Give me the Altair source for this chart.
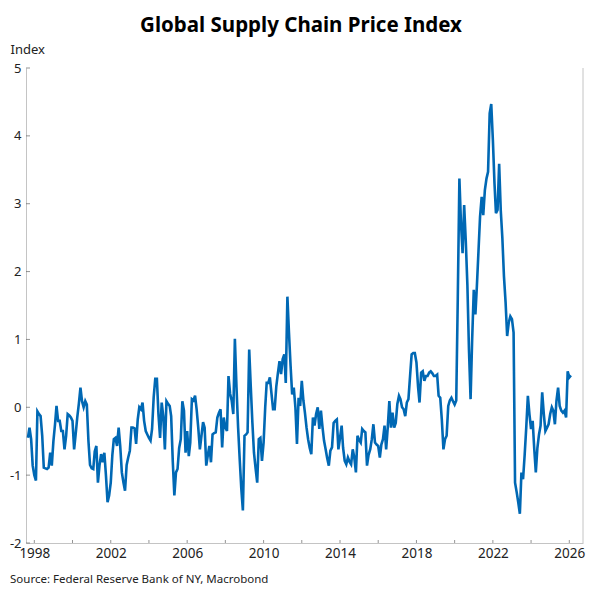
import altair as alt
import pandas as pd

# Monthly GSCPI readings, Sep 1997 .. Feb 2026
start_month = "1997-09-01"
values = [
    -0.45, -0.30, -0.47, -0.86, -1.00, -1.08, -0.06, -0.10, -0.13, -0.42,
    -0.89, -0.90, -0.91, -0.89, -0.67, -0.86, -0.50, -0.25, 0.02, -0.20,
    -0.20, -0.35, -0.35, -0.62, -0.42, -0.10, -0.12, -0.15, -0.20, -0.62,
    -0.40, -0.15, 0.05, 0.29, 0.09, 0.00, 0.09, 0.04, -0.50, -0.85,
    -0.90, -0.91, -0.65, -0.57, -1.11, -0.85, -0.69, -0.81, -0.67, -1.00,
    -1.40, -1.30, -1.11, -0.70, -0.47, -0.45, -0.57, -0.30, -0.57, -0.96,
    -1.11, -1.23, -0.85, -0.74, -0.64, -0.30, -0.30, -0.31, -0.54, -0.18,
    0.00, -0.03, 0.07, -0.20, -0.35, -0.40, -0.45, -0.49, -0.32, 0.15,
    0.42, 0.42, -0.10, -0.45, 0.07, -0.13, -0.62, 0.09, 0.05, 0.02,
    -0.13, -0.80, -1.30, -0.96, -0.91, -0.60, -0.47, 0.09, -0.05, -0.67,
    -0.35, -0.72, -0.52, 0.12, 0.10, 0.17, -0.03, -0.30, -0.62, -0.42,
    -0.22, -0.30, -0.86, -0.70, -0.57, -0.81, -0.40, -0.38, -0.37, -0.15,
    -0.08, -0.03, -0.59, -0.15, -0.30, -0.35, 0.46, 0.20, 0.10, -0.10,
    1.01, 0.30, -0.30, -0.76, -1.20, -1.52, -0.42, -0.40, -0.37, 0.85,
    0.30, -0.23, -0.67, -0.90, -1.11, -0.47, -0.45, -0.79, -0.52, 0.00,
    0.36, 0.36, 0.44, 0.20, -0.03, -0.03, 0.31, 0.50, 0.68, 0.49,
    0.71, 0.78, 0.36, 1.63, 1.10, 0.61, 0.19, 0.29, 0.00, -0.54,
    0.14, 0.02, 0.39, 0.10, -0.08, -0.30, -0.47, -0.60, -0.69, -0.15,
    -0.27, -0.10, 0.00, -0.32, -0.05, -0.30, -0.49, -0.62, -0.75, -0.86,
    -0.64, -0.59, -0.23, -0.20, -0.18, -0.62, -0.45, -0.27, -0.60, -0.79,
    -0.84, -0.74, -0.80, -0.84, -0.62, -0.74, -0.96, -0.42, -0.48, -0.52,
    -0.32, -0.35, -0.37, -0.86, -0.70, -0.62, -0.47, -0.25, -0.52, -0.55,
    -0.57, -0.74, -0.55, -0.47, -0.27, -0.62, -0.30, 0.09, -0.30, -0.08,
    -0.30, -0.23, 0.05, 0.17, 0.12, 0.00, -0.03, -0.13, 0.07, 0.12,
    0.46, 0.78, 0.80, 0.80, 0.66, 0.30, 0.07, 0.51, 0.53, 0.39,
    0.46, 0.46, 0.51, 0.53, 0.50, 0.46, 0.46, 0.48, 0.17, 0.14,
    -0.18, -0.62, -0.47, -0.42, 0.02, 0.10, 0.14, 0.09, 0.04, 0.10,
    1.60, 3.37, 2.72, 2.27, 2.98, 2.45, 1.80, 0.85, 0.12, 1.00,
    1.73, 1.37, 1.78, 2.30, 2.81, 3.10, 2.83, 3.20, 3.37, 3.47,
    4.33, 4.47, 3.94, 3.30, 2.86, 2.91, 3.59, 2.90, 2.50, 1.93,
    1.55, 1.05, 1.25, 1.34, 1.30, 1.10, -1.11, -1.25, -1.40, -1.57,
    -0.96, -1.06, -0.70, -0.30, 0.17, -0.10, -0.32, -0.20, -0.60, -0.96,
    -0.60, -0.40, -0.27, 0.22, -0.10, -0.35, -0.30, -0.25, -0.10, 0.00,
    -0.05, -0.25, 0.10, 0.29, 0.02, -0.05, -0.08, -0.05, -0.15, 0.53,
    0.44, 0.47,
]
x_tick_years = [1998, 2000, 2002, 2004, 2006, 2008, 2010, 2012, 2014,
                2016, 2018, 2020, 2022, 2024, 2026]
y_tick_values = [-2, -1, 0, 1, 2, 3, 4, 5]
title_text = "Global Supply Chain Price Index"
y_title = "Index"
source_text = "Source: Federal Reserve Bank of NY, Macrobond"

W, H = 557, 475
AXIS_GREY = "#c4c4c4"
TICK_GREY = "#666666"
TEXT = "#222222"
FONT = "Noto Sans"

months = pd.date_range(start_month, periods=len(values), freq="MS")
df = pd.DataFrame({"date": months.strftime("%Y-%m-%dT00:00:00"), "value": values})
xt = pd.DataFrame({"date": [f"{y}-01-01T00:00:00" for y in x_tick_years]})
yt = pd.DataFrame({"value": y_tick_values})

xscale = alt.Scale(domain=[alt.DateTime(year=1997, month=7, date=26),
                           alt.DateTime(year=2026, month=9, date=20)])
yscale = alt.Scale(domain=[-2, 5], nice=False, zero=False)

line = alt.Chart(df).mark_line(color="#0068b4", strokeWidth=2.6).encode(
    x=alt.X("date:T", scale=xscale,
            axis=alt.Axis(values=[alt.DateTime(year=y) for y in x_tick_years],
                          format="%Y", title=None, grid=False, ticks=False,
                          domainColor=AXIS_GREY, labelFontSize=13.5,
                          labelColor=TEXT, labelPadding=3, labelFont=FONT)),
    y=alt.Y("value:Q", scale=yscale,
            axis=alt.Axis(values=y_tick_values, title=y_title, titleAngle=0,
                          titleX=-16, titleY=-19, titleAlign="left",
                          titleBaseline="middle", titleFontWeight="normal",
                          titleFontSize=13, titleColor=TEXT, titleFont=FONT,
                          grid=False, ticks=False, domainColor=AXIS_GREY,
                          labelExpr="toString(datum.value)",
                          labelFontSize=13, labelColor=TEXT, labelPadding=5,
                          labelFont=FONT)),
)

xticks = alt.Chart(xt).mark_tick(orient="vertical", size=3, thickness=1,
                                 color=TICK_GREY).encode(
    x=alt.X("date:T", scale=xscale), y=alt.value(H - 1.5))

yticks = alt.Chart(yt).mark_tick(orient="horizontal", size=4, thickness=1,
                                 color=TICK_GREY).encode(
    y=alt.Y("value:Q", scale=yscale), x=alt.value(2))

right_border = alt.Chart(pd.DataFrame({"a": [0]})).mark_rule(
    color=AXIS_GREY, strokeWidth=1).encode(
    x=alt.value(W), y=alt.value(0), y2=alt.value(H))

title = alt.Chart(pd.DataFrame({"t": [title_text]})).mark_text(
    align="center", baseline="alphabetic", fontSize=20.5, fontWeight="bold",
    color="#000000", font=FONT).encode(
    text="t:N", x=alt.value(275), y=alt.value(-36))

source = alt.Chart(pd.DataFrame({"t": [source_text]})).mark_text(
    align="left", baseline="middle", fontSize=11.5, color=TEXT, font=FONT).encode(
    text="t:N", x=alt.value(-16), y=alt.value(512))

chart = alt.layer(right_border, line, xticks, yticks, title, source).properties(
    width=W, height=H,
    autosize=alt.AutoSizeParams(type="none"),
    padding={"left": 18, "top": 60, "right": 9, "bottom": 48},
).configure_view(stroke=None)

chart.save("out.html", embed_options={"renderer": "svg", "actions": False})
